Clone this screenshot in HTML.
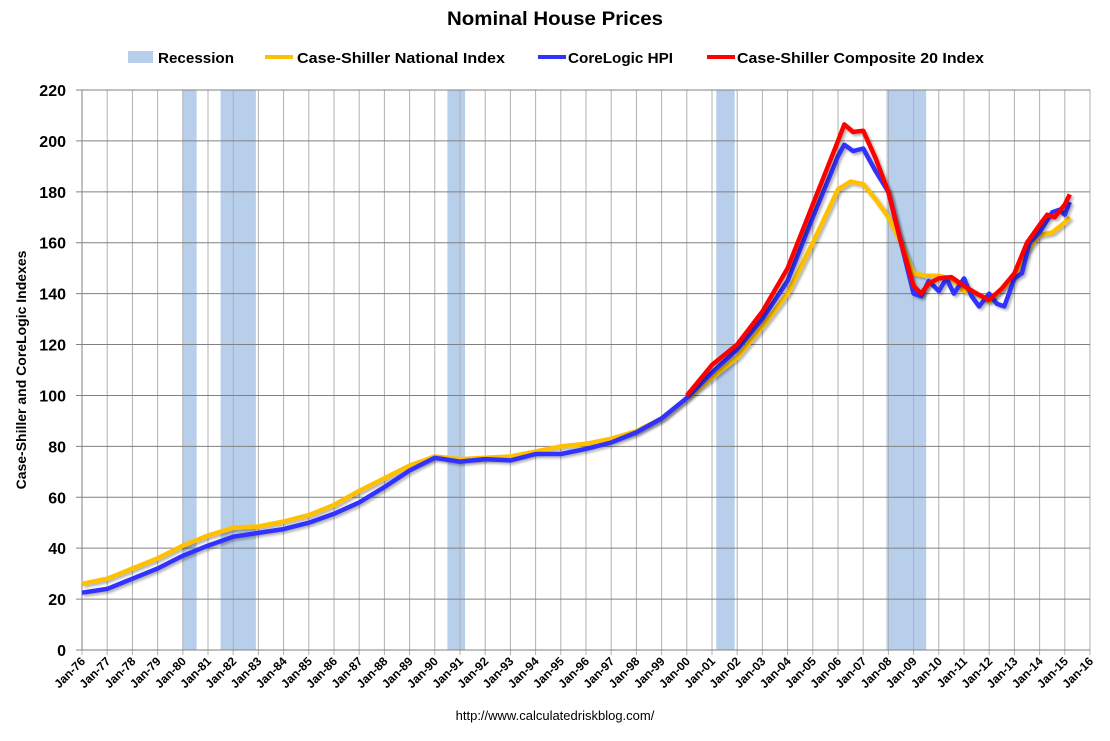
<!DOCTYPE html>
<html><head><meta charset="utf-8"><style>
body{margin:0;background:#fff;font-family:"Liberation Sans",Arial,sans-serif}
svg text{font-family:"Liberation Sans",Arial,sans-serif}
</style></head><body>
<svg id="c" width="1110" height="736">
<defs><filter id="sh" x="-5%" y="-5%" width="110%" height="110%"><feDropShadow dx="2" dy="2" stdDeviation="1.2" flood-color="#000" flood-opacity="0.3"/></filter></defs>
<text x="447" y="25" textLength="216" lengthAdjust="spacingAndGlyphs" font-size="19" font-weight="bold">Nominal House Prices</text>
<g font-size="15" font-weight="bold">
<rect x="128" y="51" width="25" height="12" fill="#b8cfec"/>
<text x="158" y="63" textLength="76" lengthAdjust="spacingAndGlyphs">Recession</text>
<line x1="265" y1="57" x2="293" y2="57" stroke="#ffc000" stroke-width="4"/>
<text x="297" y="63" textLength="208" lengthAdjust="spacingAndGlyphs">Case-Shiller National Index</text>
<line x1="538" y1="57" x2="566" y2="57" stroke="#3333ff" stroke-width="4"/>
<text x="568" y="63" textLength="105" lengthAdjust="spacingAndGlyphs">CoreLogic HPI</text>
<line x1="707" y1="57" x2="735" y2="57" stroke="#ff0000" stroke-width="4"/>
<text x="737" y="63" textLength="247" lengthAdjust="spacingAndGlyphs">Case-Shiller Composite 20 Index</text>
</g>
<text transform="translate(26,370) rotate(-90)" text-anchor="middle" font-size="14" font-weight="bold">Case-Shiller and CoreLogic Indexes</text>
<text x="555" y="720" text-anchor="middle" font-size="13" font-family="Liberation Serif">http://www.calculatedriskblog.com/</text>
<g id="g"></g>
</svg>
<script>
const recessions=[[1980.0,1980.55],[1981.5,1982.9],[1990.5,1991.2],[2001.17,2001.9],[2007.92,2009.5]];
const yTicks=[0,20,40,60,80,100,120,140,160,180,200,220];
const xYears=[];for(let y=1976;y<=2016;y++)xYears.push(y);
const natT=[1976,1977,1978,1979,1980,1981,1982,1983,1984,1985,1986,1987,1988,1989,1990,1991,1992,1993,1994,1995,1996,1997,1998,1999,2000,2001,2002,2003,2004,2005,2006,2006.5,2007,2007.5,2008,2008.5,2009,2009.5,2010,2010.5,2011,2011.5,2012,2012.5,2013,2013.5,2014,2014.5,2015,2015.2];
const natV=[26,28,32,36,41,45,48,48.5,50.5,53,57,62.5,67.5,72.5,76,75,75.5,76,78,80,81,83,86,91,99,107,115,127,140,160,181,184,183,177,170,160,148,147,147,146,141,140,137,142,147,157,163,164,168,170];
const clT=[1976,1977,1978,1979,1980,1981,1982,1983,1984,1985,1986,1987,1988,1989,1990,1991,1992,1993,1994,1995,1996,1997,1998,1999,2000,2001,2002,2003,2004,2005,2006,2006.25,2006.6,2007,2007.5,2008,2008.5,2009,2009.3,2009.6,2010,2010.3,2010.6,2011,2011.3,2011.6,2012,2012.3,2012.6,2013,2013.3,2013.6,2014,2014.5,2014.8,2015,2015.2];
const clV=[22.5,24,28,32,37,41,44.5,46,47.5,50,53.5,58,64,70.5,75.5,74,75,74.5,77,77,79,81.5,85.5,91,99,109,118,130,145,170,194,198.5,196,197,188,180,160,140,139,145,141,146,140,146,139,135,140,136,135,146,148,160,164,172,173,171,176];
const c20T=[2000,2001,2002,2003,2004,2005,2006,2006.25,2006.6,2007,2007.5,2008,2008.5,2009,2009.3,2009.6,2010,2010.5,2011,2011.5,2012,2012.5,2013,2013.5,2014,2014.3,2014.6,2015,2015.2];
const c20V=[100,112,120,133,150,175,200,206.5,203.5,204,193,180,160,143,140,144,146,146.5,143,140,137.5,142,148,160,167,171,170,175,179];
const X=t=>82+(t-1976)*25.2, Y=v=>650-v*560/220;
const NS="http://www.w3.org/2000/svg",g=document.getElementById('g');
function mk(tag,a,p){const e=document.createElementNS(NS,tag);for(const k in a)e.setAttribute(k,a[k]);(p||g).appendChild(e);return e;}
recessions.forEach(r=>{const e=mk('rect',{x:X(r[0]),y:90,width:X(r[1])-X(r[0]),height:560,fill:'#b8cfec'});

});
xYears.forEach(y=>{const e=mk('line',{x1:X(y),x2:X(y),y1:90,y2:655,stroke:'#b0b0b0','stroke-width':1});


const t=mk('text',{transform:`translate(${X(y)+4},${662}) rotate(-45)`,'text-anchor':'end','font-size':12,'font-weight':'bold'});t.textContent='Jan-'+String(y).slice(2);

});
yTicks.forEach(v=>{const e=mk('line',{x1:76,x2:1090,y1:Y(v),y2:Y(v),stroke:'#808080','stroke-width':1});


const t=mk('text',{x:66,y:Y(v)+6,'text-anchor':'end','font-size':16,'font-weight':'bold'});t.textContent=v;

});
const ax=mk('line',{x1:82,x2:82,y1:90,y2:650,stroke:'#808080'});


function series(T,V,col,name){const d=T.map((t,i)=>(i?'L':'M')+X(t).toFixed(1)+','+Y(V[i]).toFixed(1)).join('');
const e=mk('path',{d,fill:'none',stroke:col,'stroke-width':4.5,'stroke-linejoin':'round',filter:'url(#sh)'});

}
series(natT,natV,'#ffc000','national-index-line');
series(clT,clV,'#3333ff','corelogic-line');
series(c20T,c20V,'#ff0000','composite20-line');
</script>
</body></html>
